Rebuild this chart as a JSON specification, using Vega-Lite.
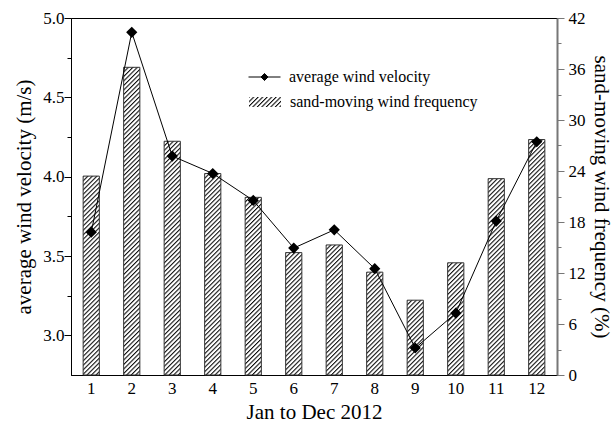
{
"$schema": "https://vega.github.io/schema/vega-lite/v6.json",
"width": 486, "height": 357,
"autosize": "none",
"padding": {"left": 71, "top": 18, "right": 59, "bottom": 50},
"background": "white",
"config": {"font": "Liberation Serif", "view": {"stroke": "black", "strokeWidth": 1},
  "axis": {"grid": false, "labelFont": "Liberation Serif", "titleFont": "Liberation Serif", "labelColor": "black", "titleColor": "black", "titleFontWeight": "normal", "labelFontSize": 17, "titleFontSize": 21, "domainColor": "black", "tickColor": "black"},
  "legend": {"labelFont": "Liberation Serif", "labelFontSize": 16, "labelColor": "black", "labelLimit": 400, "padding": 0, "labelOffset": 8, "clipHeight": 20, "symbolSize": 1024, "symbolStrokeWidth": 1}},
"params": [{"name": "hatch", "value": [
{"offset":0,"color":"#111"},{"offset":0.0055,"color":"#fff"},{"offset":0.0095,"color":"#fff"},
{"offset":0.0125,"color":"#111"},{"offset":0.018,"color":"#fff"},{"offset":0.022,"color":"#fff"},
{"offset":0.025,"color":"#111"},{"offset":0.0305,"color":"#fff"},{"offset":0.0345,"color":"#fff"},
{"offset":0.0375,"color":"#111"},{"offset":0.043,"color":"#fff"},{"offset":0.047,"color":"#fff"},
{"offset":0.05,"color":"#111"},{"offset":0.0555,"color":"#fff"},{"offset":0.0595,"color":"#fff"},
{"offset":0.0625,"color":"#111"},{"offset":0.068,"color":"#fff"},{"offset":0.072,"color":"#fff"},
{"offset":0.075,"color":"#111"},{"offset":0.0805,"color":"#fff"},{"offset":0.0845,"color":"#fff"},
{"offset":0.0875,"color":"#111"},{"offset":0.093,"color":"#fff"},{"offset":0.097,"color":"#fff"},
{"offset":0.1,"color":"#111"},{"offset":0.1055,"color":"#fff"},{"offset":0.1095,"color":"#fff"},
{"offset":0.1125,"color":"#111"},{"offset":0.118,"color":"#fff"},{"offset":0.122,"color":"#fff"},
{"offset":0.125,"color":"#111"},{"offset":0.1305,"color":"#fff"},{"offset":0.1345,"color":"#fff"},
{"offset":0.1375,"color":"#111"},{"offset":0.143,"color":"#fff"},{"offset":0.147,"color":"#fff"},
{"offset":0.15,"color":"#111"},{"offset":0.1555,"color":"#fff"},{"offset":0.1595,"color":"#fff"},
{"offset":0.1625,"color":"#111"},{"offset":0.168,"color":"#fff"},{"offset":0.172,"color":"#fff"},
{"offset":0.175,"color":"#111"},{"offset":0.1805,"color":"#fff"},{"offset":0.1845,"color":"#fff"},
{"offset":0.1875,"color":"#111"},{"offset":0.193,"color":"#fff"},{"offset":0.197,"color":"#fff"},
{"offset":0.2,"color":"#111"},{"offset":0.2055,"color":"#fff"},{"offset":0.2095,"color":"#fff"},
{"offset":0.2125,"color":"#111"},{"offset":0.218,"color":"#fff"},{"offset":0.222,"color":"#fff"},
{"offset":0.225,"color":"#111"},{"offset":0.2305,"color":"#fff"},{"offset":0.2345,"color":"#fff"},
{"offset":0.2375,"color":"#111"},{"offset":0.243,"color":"#fff"},{"offset":0.247,"color":"#fff"},
{"offset":0.25,"color":"#111"},{"offset":0.2555,"color":"#fff"},{"offset":0.2595,"color":"#fff"},
{"offset":0.2625,"color":"#111"},{"offset":0.268,"color":"#fff"},{"offset":0.272,"color":"#fff"},
{"offset":0.275,"color":"#111"},{"offset":0.2805,"color":"#fff"},{"offset":0.2845,"color":"#fff"},
{"offset":0.2875,"color":"#111"},{"offset":0.293,"color":"#fff"},{"offset":0.297,"color":"#fff"},
{"offset":0.3,"color":"#111"},{"offset":0.3055,"color":"#fff"},{"offset":0.3095,"color":"#fff"},
{"offset":0.3125,"color":"#111"},{"offset":0.318,"color":"#fff"},{"offset":0.322,"color":"#fff"},
{"offset":0.325,"color":"#111"},{"offset":0.3305,"color":"#fff"},{"offset":0.3345,"color":"#fff"},
{"offset":0.3375,"color":"#111"},{"offset":0.343,"color":"#fff"},{"offset":0.347,"color":"#fff"},
{"offset":0.35,"color":"#111"},{"offset":0.3555,"color":"#fff"},{"offset":0.3595,"color":"#fff"},
{"offset":0.3625,"color":"#111"},{"offset":0.368,"color":"#fff"},{"offset":0.372,"color":"#fff"},
{"offset":0.375,"color":"#111"},{"offset":0.3805,"color":"#fff"},{"offset":0.3845,"color":"#fff"},
{"offset":0.3875,"color":"#111"},{"offset":0.393,"color":"#fff"},{"offset":0.397,"color":"#fff"},
{"offset":0.4,"color":"#111"},{"offset":0.4055,"color":"#fff"},{"offset":0.4095,"color":"#fff"},
{"offset":0.4125,"color":"#111"},{"offset":0.418,"color":"#fff"},{"offset":0.422,"color":"#fff"},
{"offset":0.425,"color":"#111"},{"offset":0.4305,"color":"#fff"},{"offset":0.4345,"color":"#fff"},
{"offset":0.4375,"color":"#111"},{"offset":0.443,"color":"#fff"},{"offset":0.447,"color":"#fff"},
{"offset":0.45,"color":"#111"},{"offset":0.4555,"color":"#fff"},{"offset":0.4595,"color":"#fff"},
{"offset":0.4625,"color":"#111"},{"offset":0.468,"color":"#fff"},{"offset":0.472,"color":"#fff"},
{"offset":0.475,"color":"#111"},{"offset":0.4805,"color":"#fff"},{"offset":0.4845,"color":"#fff"},
{"offset":0.4875,"color":"#111"},{"offset":0.493,"color":"#fff"},{"offset":0.497,"color":"#fff"},
{"offset":0.5,"color":"#111"},{"offset":0.5055,"color":"#fff"},{"offset":0.5095,"color":"#fff"},
{"offset":0.5125,"color":"#111"},{"offset":0.518,"color":"#fff"},{"offset":0.522,"color":"#fff"},
{"offset":0.525,"color":"#111"},{"offset":0.5305,"color":"#fff"},{"offset":0.5345,"color":"#fff"},
{"offset":0.5375,"color":"#111"},{"offset":0.543,"color":"#fff"},{"offset":0.547,"color":"#fff"},
{"offset":0.55,"color":"#111"},{"offset":0.5555,"color":"#fff"},{"offset":0.5595,"color":"#fff"},
{"offset":0.5625,"color":"#111"},{"offset":0.568,"color":"#fff"},{"offset":0.572,"color":"#fff"},
{"offset":0.575,"color":"#111"},{"offset":0.5805,"color":"#fff"},{"offset":0.5845,"color":"#fff"},
{"offset":0.5875,"color":"#111"},{"offset":0.593,"color":"#fff"},{"offset":0.597,"color":"#fff"},
{"offset":0.6,"color":"#111"},{"offset":0.6055,"color":"#fff"},{"offset":0.6095,"color":"#fff"},
{"offset":0.6125,"color":"#111"},{"offset":0.618,"color":"#fff"},{"offset":0.622,"color":"#fff"},
{"offset":0.625,"color":"#111"},{"offset":0.6305,"color":"#fff"},{"offset":0.6345,"color":"#fff"},
{"offset":0.6375,"color":"#111"},{"offset":0.643,"color":"#fff"},{"offset":0.647,"color":"#fff"},
{"offset":0.65,"color":"#111"},{"offset":0.6555,"color":"#fff"},{"offset":0.6595,"color":"#fff"},
{"offset":0.6625,"color":"#111"},{"offset":0.668,"color":"#fff"},{"offset":0.672,"color":"#fff"},
{"offset":0.675,"color":"#111"},{"offset":0.6805,"color":"#fff"},{"offset":0.6845,"color":"#fff"},
{"offset":0.6875,"color":"#111"},{"offset":0.693,"color":"#fff"},{"offset":0.697,"color":"#fff"},
{"offset":0.7,"color":"#111"},{"offset":0.7055,"color":"#fff"},{"offset":0.7095,"color":"#fff"},
{"offset":0.7125,"color":"#111"},{"offset":0.718,"color":"#fff"},{"offset":0.722,"color":"#fff"},
{"offset":0.725,"color":"#111"},{"offset":0.7305,"color":"#fff"},{"offset":0.7345,"color":"#fff"},
{"offset":0.7375,"color":"#111"},{"offset":0.743,"color":"#fff"},{"offset":0.747,"color":"#fff"},
{"offset":0.75,"color":"#111"},{"offset":0.7555,"color":"#fff"},{"offset":0.7595,"color":"#fff"},
{"offset":0.7625,"color":"#111"},{"offset":0.768,"color":"#fff"},{"offset":0.772,"color":"#fff"},
{"offset":0.775,"color":"#111"},{"offset":0.7805,"color":"#fff"},{"offset":0.7845,"color":"#fff"},
{"offset":0.7875,"color":"#111"},{"offset":0.793,"color":"#fff"},{"offset":0.797,"color":"#fff"},
{"offset":0.8,"color":"#111"},{"offset":0.8055,"color":"#fff"},{"offset":0.8095,"color":"#fff"},
{"offset":0.8125,"color":"#111"},{"offset":0.818,"color":"#fff"},{"offset":0.822,"color":"#fff"},
{"offset":0.825,"color":"#111"},{"offset":0.8305,"color":"#fff"},{"offset":0.8345,"color":"#fff"},
{"offset":0.8375,"color":"#111"},{"offset":0.843,"color":"#fff"},{"offset":0.847,"color":"#fff"},
{"offset":0.85,"color":"#111"},{"offset":0.8555,"color":"#fff"},{"offset":0.8595,"color":"#fff"},
{"offset":0.8625,"color":"#111"},{"offset":0.868,"color":"#fff"},{"offset":0.872,"color":"#fff"},
{"offset":0.875,"color":"#111"},{"offset":0.8805,"color":"#fff"},{"offset":0.8845,"color":"#fff"},
{"offset":0.8875,"color":"#111"},{"offset":0.893,"color":"#fff"},{"offset":0.897,"color":"#fff"},
{"offset":0.9,"color":"#111"},{"offset":0.9055,"color":"#fff"},{"offset":0.9095,"color":"#fff"},
{"offset":0.9125,"color":"#111"},{"offset":0.918,"color":"#fff"},{"offset":0.922,"color":"#fff"},
{"offset":0.925,"color":"#111"},{"offset":0.9305,"color":"#fff"},{"offset":0.9345,"color":"#fff"},
{"offset":0.9375,"color":"#111"},{"offset":0.943,"color":"#fff"},{"offset":0.947,"color":"#fff"},
{"offset":0.95,"color":"#111"},{"offset":0.9555,"color":"#fff"},{"offset":0.9595,"color":"#fff"},
{"offset":0.9625,"color":"#111"},{"offset":0.968,"color":"#fff"},{"offset":0.972,"color":"#fff"},
{"offset":0.975,"color":"#111"},{"offset":0.9805,"color":"#fff"},{"offset":0.9845,"color":"#fff"},
{"offset":0.9875,"color":"#111"},{"offset":0.993,"color":"#fff"},{"offset":0.997,"color":"#fff"}
]}],
"data": {"values": [
{"month": 1, "velocity": 3.65, "freq": 23.4},
{"month": 2, "velocity": 4.91, "freq": 36.2},
{"month": 3, "velocity": 4.13, "freq": 27.5},
{"month": 4, "velocity": 4.02, "freq": 23.7},
{"month": 5, "velocity": 3.85, "freq": 20.9},
{"month": 6, "velocity": 3.55, "freq": 14.4},
{"month": 7, "velocity": 3.665, "freq": 15.3},
{"month": 8, "velocity": 3.42, "freq": 12.1},
{"month": 9, "velocity": 2.92, "freq": 8.8},
{"month": 10, "velocity": 3.14, "freq": 13.2},
{"month": 11, "velocity": 3.72, "freq": 23.1},
{"month": 12, "velocity": 4.22, "freq": 27.7}
]},
"encoding": {"x": {"field": "month", "type": "ordinal", "scale": {"paddingInner": 0.6, "paddingOuter": 0.3},
  "axis": {"title": "Jan to Dec 2012", "labelAngle": 0, "tickSize": -5, "labelPadding": 10.5, "tickColor": "#555", "titlePadding": 5}}},
"layer": [
 {"mark": {"type": "bar", "strokeWidth": 1, "stroke": "#333",
    "fill": {"expr": "datum.freq ? {gradient: 'linear', x1: 0, y1: 0, x2: 360*16.2/(262.44 + pow(datum.freq*8.5, 2)), y2: 360*datum.freq*8.5/(262.44 + pow(datum.freq*8.5, 2)), stops: hatch} : {gradient: 'linear', x1: 0, y1: 0, x2: 10.25, y2: 3.203, stops: hatch}"}},
  "encoding": {
   "y": {"field": "freq", "type": "quantitative", "scale": {"domain": [0, 42], "nice": false},
     "axis": {"orient": "right", "title": "sand-moving wind frequency (%)", "values": [0,3,6,9,12,15,18,21,24,27,30,33,36,39,42],
       "labelExpr": "datum.value % 6 === 0 ? datum.label : ''",
       "tickSize": {"condition": {"test": "datum.value % 6 === 0", "value": 7}, "value": 4},
       "domainColor": "#777", "domainWidth": 2, "tickColor": "#777", "labelPadding": 4, "titlePadding": 5}},
   "opacity": {"datum": "sand-moving wind frequency", "type": "ordinal", "scale": {"range": [1]},
     "legend": {"orient": "none", "legendX": 177, "legendY": 74, "title": null,
       "symbolType": "M-1,-0.3125H1V0.3125H-1Z", "symbolStrokeColor": "#222", "symbolStrokeWidth": 1.2}}
  }},
 {"encoding": {"y": {"field": "velocity", "type": "quantitative", "scale": {"domain": [2.75, 5], "nice": false, "zero": false},
     "axis": {"orient": "left", "title": "average wind velocity (m/s)", "values": [3,3.25,3.5,3.75,4,4.25,4.5,4.75,5],
       "labelExpr": "datum.value*2 === round(datum.value*2) ? format(datum.value, '.1f') : ''",
       "tickSize": {"condition": {"test": "datum.value*2 === round(datum.value*2)", "value": 7}, "value": 4},
       "labelPadding": 0, "titlePadding": 8}}},
  "layer": [
   {"mark": {"type": "line", "strokeWidth": 1, "color": "black"}},
   {"mark": {"type": "point", "shape": "diamond", "filled": true, "size": 70, "color": "black", "opacity": 1},
    "encoding": {"stroke": {"datum": "average wind velocity", "type": "nominal", "scale": {"range": ["black"]},
      "legend": {"orient": "none", "legendX": 177, "legendY": 49, "title": null,
        "symbolType": "M-1,0H1M0,-0.22L0.22,0L0,0.22L-0.22,0Z", "symbolFillColor": "black", "symbolStrokeColor": "black"}}}}
  ]}
],
"resolve": {"scale": {"y": "independent"}}
}
